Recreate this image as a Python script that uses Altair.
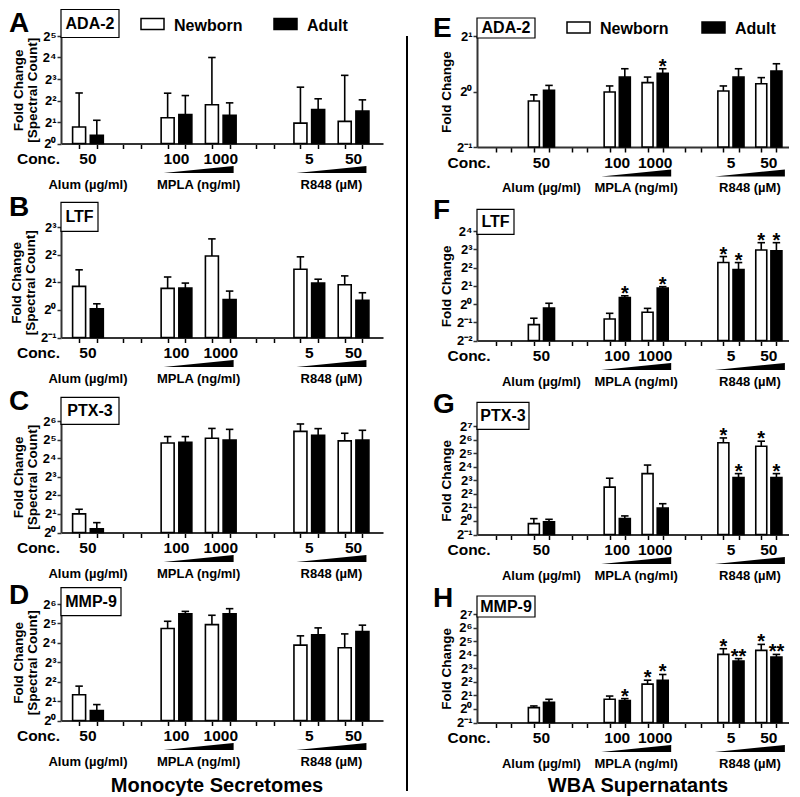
import altair as alt
import pandas as pd

FONT = "Liberation Sans, Arial, Helvetica, sans-serif"

SERIES = ["Newborn", "Adult"]
SERIES_FILL = ["white", "black"]
CONC_LABELS = ["50", "100", "1000", "5", "50"]
COND_TREATMENT = ["Alum", "MPLA", "MPLA", "R848", "R848"]
TREATMENTS = ["Alum", "MPLA", "R848"]
TREATMENT_LABELS = ["Alum (µg/ml)", "MPLA (ng/ml)", "R848 (µM)"]
LEFT_GROUPS = [0, 2, 3, 5, 6]      # 7 slot pairs, empty pairs at 1 and 4
RIGHT_GROUPS = [1, 3, 4, 6, 7]     # 8 slot pairs, empty pairs at 0, 2 and 5

# values are log2(fold change)
# ---- Monocyte secretomes ----
A_NB = [0.77, 1.20, 1.80, 0.95, 1.03]
A_NB_ERR = [2.35, 2.34, 4.00, 2.62, 3.17]
A_AD = [0.38, 1.35, 1.31, 1.58, 1.51]
A_AD_ERR = [1.08, 2.23, 1.89, 2.08, 2.03]

B_NB = [0.85, 0.78, 1.95, 1.47, 0.91]
B_NB_ERR = [1.45, 1.19, 2.57, 1.92, 1.23]
B_AD = [0.04, 0.79, 0.37, 0.97, 0.35]
B_AD_ERR = [0.22, 0.97, 0.68, 1.11, 0.62]

C_NB = [1.00, 4.82, 5.07, 5.44, 4.93]
C_NB_ERR = [1.25, 5.16, 5.60, 5.84, 5.34]
C_AD = [0.20, 4.86, 4.98, 5.23, 4.98]
C_AD_ERR = [0.53, 5.16, 5.55, 5.59, 5.50]

D_NB = [1.33, 4.74, 4.94, 3.88, 3.75]
D_NB_ERR = [1.77, 5.11, 5.42, 4.36, 4.46]
D_AD = [0.51, 5.49, 5.49, 4.41, 4.58]
D_AD_ERR = [0.82, 5.62, 5.76, 4.77, 4.91]

# ---- WBA supernatants ----
E_NB = [-0.17, -0.01, 0.16, 0.01, 0.14]
E_NB_ERR = [-0.06, 0.10, 0.26, 0.10, 0.25]
E_AD = [0.02, 0.26, 0.33, 0.26, 0.37]
E_AD_ERR = [0.11, 0.41, 0.41, 0.41, 0.50]
E_NB_STAR = ["", "", "", "", ""]
E_AD_STAR = ["", "", "*", "", ""]

F_NB = [-1.13, -0.82, -0.45, 2.27, 2.96]
F_NB_ERR = [-0.78, -0.51, -0.24, 2.60, 3.36]
F_AD = [-0.22, 0.36, 0.87, 1.89, 2.91]
F_AD_ERR = [0.04, 0.45, 0.95, 2.27, 3.36]
F_NB_STAR = ["", "", "", "*", "*"]
F_AD_STAR = ["", "*", "*", "*", "*"]

G_NB = [-0.20, 2.49, 3.49, 5.76, 5.51]
G_NB_ERR = [0.17, 3.15, 4.12, 6.12, 5.88]
G_AD = [-0.07, 0.17, 0.95, 3.20, 3.20]
G_AD_ERR = [0.12, 0.37, 1.27, 3.49, 3.49]
G_NB_STAR = ["", "", "", "*", "*"]
G_AD_STAR = ["", "", "", "*", "*"]

H_NB = [0.10, 0.71, 1.83, 4.02, 4.32]
H_NB_ERR = [0.22, 0.95, 2.12, 4.44, 4.76]
H_AD = [0.49, 0.61, 2.12, 3.54, 3.83]
H_AD_ERR = [0.71, 0.76, 2.54, 3.71, 4.02]
H_NB_STAR = ["", "", "*", "*", "*"]
H_AD_STAR = ["", "*", "*", "**", "**"]

NO_STAR = ["", "", "", "", ""]

STEP = 2.5
WEDGE = "M-1,0.1L1,-0.1L1,0.1Z"
one = pd.DataFrame({"k": [0]})


def sup(v):
    return str(v).translate(str.maketrans("-0123456789", "⁻⁰¹²³⁴⁵⁶⁷⁸⁹"))


def label_expr(vals):
    parts = [f"datum.value == {v} ? '2{sup(v)}'" for v in vals]
    return " : ".join(parts) + " : ''"


def panel(p, side):
    left = side == "left"
    groups = LEFT_GROUPS if left else RIGHT_GROUPS
    ngroups = 7 if left else 8
    xdom = [-0.74, 16.88] if left else [-0.92, 19.0]
    width = 322 if left else 312
    barw = 13 if left else 11
    h = p["height"]
    ymin, ymax = p["ydomain"]

    rows = []
    for i in range(5):
        for s, name in enumerate(SERIES):
            if s == 0:
                v, e, st = p["nb"], p["nb_err"], p["nb_star"]
            else:
                v, e, st = p["ad"], p["ad_err"], p["ad_star"]
            rows.append({"slot": groups[i] * STEP + s, "series": name,
                         "value": v[i], "err": e[i], "star": st[i]})
    df = pd.DataFrame(rows)
    ticks = [g * STEP + s for g in range(ngroups) for s in (0, 1)]

    xscale = alt.Scale(domain=xdom, nice=False, zero=False)
    yscale = alt.Scale(domain=[ymin, ymax], nice=False, zero=False)
    xaxis = alt.Axis(values=ticks, labels=False, title=None, tickSize=5,
                     tickColor="black", tickWidth=1.5, domainColor="#333",
                     domainWidth=2, grid=False)
    ytitle = ["Fold Change", "[Spectral Count]"] if left else "Fold Change"
    yvals = list(range(ymin, ymax + 1))
    yaxis = alt.Axis(values=yvals, labelExpr=label_expr(yvals), title=ytitle,
                     titleFont=FONT, titleFontSize=13.5, titleFontWeight="bold",
                     titleColor="black", titlePadding=3, titleLineHeight=14,
                     labelFont=FONT, labelFontSize=13, labelFontWeight="bold",
                     labelColor="black", labelPadding=1, labelOverlap=False,
                     tickSize=4, tickColor="#333", tickWidth=1.5,
                     domainColor="#333", domainWidth=2, grid=False)

    def X(field="slot"):
        return alt.X(f"{field}:Q", scale=xscale, axis=xaxis)

    def Y(field):
        return alt.Y(f"{field}:Q", scale=yscale, axis=yaxis)

    gx = -53 if left else -46
    layers = []
    layers.append(alt.Chart(one).mark_rule(strokeOpacity=0).encode(
        x=alt.value(gx), y=alt.value(-p["T"]), y2=alt.value(h + 49)))

    layers.append(alt.Chart(df).mark_bar(size=barw, stroke="black", strokeWidth=1.6).encode(
        x=X(), y=Y("value"), y2=alt.datum(ymin),
        fill=alt.Fill("series:N", scale=alt.Scale(domain=SERIES, range=SERIES_FILL), legend=None)))
    layers.append(alt.Chart(df).mark_rule(color="black", strokeWidth=1.6).encode(
        x=X(), y=Y("value"), y2="err:Q"))
    layers.append(alt.Chart(df).mark_point(shape="M-1,0L1,0", size=56, filled=False,
                                           color="black", strokeWidth=1.6, opacity=1).encode(
        x=X(), y=Y("err")))
    sdf = df[df["star"] != ""]
    if len(sdf):
        layers.append(alt.Chart(sdf).mark_text(font=FONT, fontSize=20, fontWeight="bold",
                                               baseline="alphabetic", dy=4, color="black").encode(
            x=X(), y=Y("err"), text="star:N"))

    # concentration row
    conc_df = pd.DataFrame({"slot": [groups[i] * STEP + 0.5 for i in range(5)],
                            "label": CONC_LABELS})
    layers.append(alt.Chart(conc_df).mark_text(font=FONT, fontSize=15.5, fontWeight="bold",
                                               baseline="alphabetic", color="black").encode(
        x=X(), y=alt.value(h + 20.5), text="label:N"))
    layers.append(alt.Chart(one).mark_text(text="Conc.", font=FONT, fontSize=15.5, fontWeight="bold",
                                           baseline="alphabetic", align="right" if left else "center",
                                           color="black").encode(
        x=alt.value(-1 if left else -8), y=alt.value(h + 20.5)))

    # treatments
    centers, nconc = [], []
    for t in TREATMENTS:
        sl = [groups[i] * STEP + s for i in range(5) if COND_TREATMENT[i] == t for s in (0, 1)]
        centers.append(sum(sl) / len(sl))
        nconc.append(len(sl) // 2)
    treat_df = pd.DataFrame({"slot": centers, "label": TREATMENT_LABELS, "n": nconc})
    wedge_df = treat_df[treat_df["n"] > 1]
    layers.append(alt.Chart(wedge_df).mark_point(shape=WEDGE, size=70 * 70, filled=True,
                                                 color="black", opacity=1, strokeWidth=0).encode(
        x=X(), y=alt.value(h + 26)))
    layers.append(alt.Chart(treat_df).mark_text(font=FONT, fontSize=13, fontWeight="bold",
                                                baseline="alphabetic", color="black").encode(
        x=X(), y=alt.value(h + 45), text="label:N"))

    # gene box
    bw, bt, bb = p["box"]
    layers.append(alt.Chart(one).mark_rect(fill="white", stroke="black", strokeWidth=1.2).encode(
        x=alt.value(0), x2=alt.value(bw), y=alt.value(bt), y2=alt.value(bb)))
    layers.append(alt.Chart(one).mark_text(text=p["gene"], font=FONT, fontSize=16, fontWeight="bold",
                                           align="center", baseline="middle", color="black").encode(
        x=alt.value(bw / 2), y=alt.value((bt + bb) / 2)))
    # panel letter
    layers.append(alt.Chart(one).mark_text(text=p["letter"], font=FONT, fontSize=28, fontWeight="bold",
                                           align="left", baseline="alphabetic", color="black").encode(
        x=alt.value(-52 if left else -44), y=alt.value(p["ly"])))

    # legend key
    if p.get("legend"):
        lx, ly = p["legend"]
        for k, name in enumerate(SERIES):
            ox = lx + k * p["legend_gap"]
            layers.append(alt.Chart(one).mark_rect(fill=SERIES_FILL[k], stroke="black", strokeWidth=1.5).encode(
                x=alt.value(ox), x2=alt.value(ox + 23), y=alt.value(ly), y2=alt.value(ly + 11)))
            layers.append(alt.Chart(one).mark_text(text=name, font=FONT, fontSize=16, fontWeight="bold",
                                                   align="left", baseline="alphabetic", color="black").encode(
                x=alt.value(ox + 33), y=alt.value(ly + 12)))

    if p.get("bottom"):
        text, bx, by = p["bottom"]
        layers.append(alt.Chart(one).mark_text(text=text, font=FONT, fontSize=20, fontWeight="bold",
                                               align="center", baseline="alphabetic", color="black").encode(
            x=alt.value(bx), y=alt.value(h + by)))

    return alt.layer(*layers).properties(width=width, height=h)


LEFT = [
    dict(letter="A", gene="ADA-2", ydomain=(0, 5), height=107.5, T=26.5, ly=-4.5,
         box=(58, -26.5, 1.5), nb=A_NB, nb_err=A_NB_ERR, ad=A_AD, ad_err=A_AD_ERR,
         nb_star=NO_STAR, ad_star=NO_STAR, legend=(80, -17.5), legend_gap=133),
    dict(letter="B", gene="LTF", ydomain=(-1, 3), height=110.5, T=33.5, ly=-11,
         box=(37, -24.7, 4.3), nb=B_NB, nb_err=B_NB_ERR, ad=B_AD, ad_err=B_AD_ERR,
         nb_star=NO_STAR, ad_star=NO_STAR),
    dict(letter="C", gene="PTX-3", ydomain=(0, 6), height=111.5, T=33.5, ly=-11,
         box=(58, -23.7, 3.3), nb=C_NB, nb_err=C_NB_ERR, ad=C_AD, ad_err=C_AD_ERR,
         nb_star=NO_STAR, ad_star=NO_STAR),
    dict(letter="D", gene="MMP-9", ydomain=(0, 6), height=116.5, T=22, ly=0,
         box=(60, -16.3, 11.7), nb=D_NB, nb_err=D_NB_ERR, ad=D_AD, ad_err=D_AD_ERR,
         nb_star=NO_STAR, ad_star=NO_STAR, bottom=("Monocyte Secretomes", 156, 71)),
]
RIGHT = [
    dict(letter="E", gene="ADA-2", ydomain=(-1, 1), height=111, T=25, ly=1,
         box=(58, -18, 2), nb=E_NB, nb_err=E_NB_ERR, ad=E_AD, ad_err=E_AD_ERR,
         nb_star=E_NB_STAR, ad_star=E_AD_STAR, legend=(90, -14), legend_gap=135),
    dict(letter="F", gene="LTF", ydomain=(-2, 4), height=109.5, T=35, ly=-12.5,
         box=(37, -21.7, 3.3), nb=F_NB, nb_err=F_NB_ERR, ad=F_AD, ad_err=F_AD_ERR,
         nb_star=F_NB_STAR, ad_star=F_AD_STAR),
    dict(letter="G", gene="PTX-3", ydomain=(-1, 7), height=108.5, T=36, ly=-13.5,
         box=(52, -23.7, 3.3), nb=G_NB, nb_err=G_NB_ERR, ad=G_AD, ad_err=G_AD_ERR,
         nb_star=G_NB_STAR, ad_star=G_AD_STAR),
    dict(letter="H", gene="MMP-9", ydomain=(-1, 7), height=108.5, T=30, ly=-7.5,
         box=(58, -18, 3), nb=H_NB, nb_err=H_NB_ERR, ad=H_AD, ad_err=H_AD_ERR,
         nb_star=H_NB_STAR, ad_star=H_AD_STAR, bottom=("WBA Supernatants", 161, 69)),
]

left_col = alt.vconcat(*[panel(p, "left") for p in LEFT], spacing=0).resolve_scale(
    x="independent", y="independent")
right_col = alt.vconcat(*[panel(p, "right") for p in RIGHT], spacing=0).resolve_scale(
    x="independent", y="independent")
divider = alt.Chart(one).mark_rule(color="black", strokeWidth=2).encode(
    x=alt.value(1), y=alt.value(0), y2=alt.value(755)).properties(width=2, height=755)

chart = alt.hconcat(left_col, divider, right_col, spacing=23).resolve_scale(
    x="independent", y="independent").properties(padding=0).configure_view(stroke=None)

chart.save("out.html", embed_options={"renderer": "svg", "actions": False})
